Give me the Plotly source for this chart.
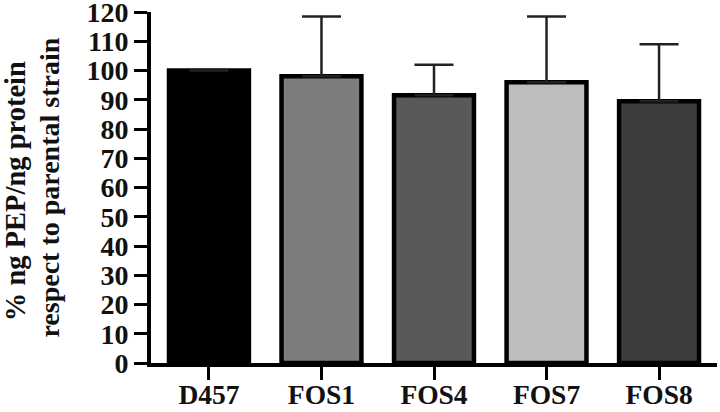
import plotly.graph_objects as go

strains = ['D457', 'FOS1', 'FOS4', 'FOS7', 'FOS8']
pep_pct = [100, 98, 91.5, 96, 89.5]
pep_err = [None, 20.5, 10.5, 22.5, 19.5]
bar_colors = ['#000000', '#7d7d7d', '#595959', '#bdbdbd', '#3d3d3d']
y_ticks = list(range(0, 121, 10))

font_family = 'Liberation Serif'

fig = go.Figure()
fig.add_trace(go.Bar(
    x=strains,
    y=pep_pct,
    width=0.71,
    marker=dict(color=bar_colors, line=dict(color='#000000', width=4.5)),
    error_y=dict(type='data', array=pep_err, arrayminus=[0] * len(strains),
                 symmetric=False, color='#222222', thickness=2.5, width=19.5),
))

fig.update_layout(
    width=720, height=412,
    margin=dict(l=151, r=3, t=12, b=49),
    plot_bgcolor='white', paper_bgcolor='white',
    showlegend=False,
    font=dict(family=font_family, color='#111111'),
)

fig.update_xaxes(
    range=[-0.515, 4.515], automargin=False, ticklabeloverflow='allow',
    showline=True, linecolor='#000000', linewidth=4,
    ticks='outside', ticklen=13, tickwidth=3, tickcolor='#000000',
    ticklabelstandoff=-9,
    tickfont=dict(family=font_family, size=27.5, color='#111111', weight='bold'),
    showgrid=False, zeroline=False,
)
fig.update_yaxes(
    range=[0, 120], automargin=False, ticklabeloverflow='allow',
    tickvals=y_ticks,
    showline=True, linecolor='#000000', linewidth=4,
    ticks='outside', ticklen=13, tickwidth=3, tickcolor='#000000',
    tickfont=dict(family=font_family, size=28, color='#111111', weight='bold'),
    showgrid=False, zeroline=False,
)

# two-line y title, placed as separate rotated lines
fig.add_annotation(text='% ng PEP/ng protein', xref='paper', yref='paper',
                   x=-0.240, y=0.49, textangle=-90, showarrow=False,
                   xanchor='center', yanchor='middle',
                   font=dict(family=font_family, size=28.5, color='#111111', weight='bold'))
fig.add_annotation(text='respect to parental strain', xref='paper', yref='paper',
                   x=-0.180, y=0.50, textangle=-90, showarrow=False,
                   xanchor='center', yanchor='middle',
                   font=dict(family=font_family, size=28, color='#111111', weight='bold'))

# drop the default body margin so the figure sits at the page corner
fig.write_html("out.html", config={'displayModeBar': False},
               post_script="document.body.style.margin='0';")
